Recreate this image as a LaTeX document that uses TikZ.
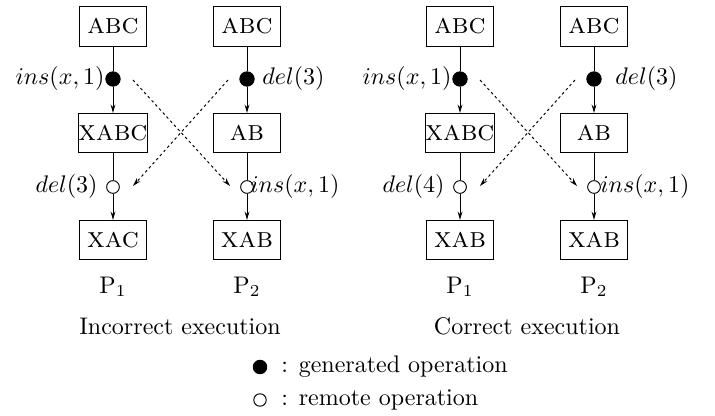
\documentclass[tikz,border=0pt]{standalone}
\usetikzlibrary{arrows.meta,calc}
\begin{document}
\begin{tikzpicture}[x=0.4167pt,y=-0.4167pt,
  state/.style={draw, line width=0.4pt, minimum width=27.9pt, minimum height=16.3pt, inner sep=0pt, font=\large\scshape},
  gen/.style={circle, fill=black, draw, line width=0.4pt, minimum size=6pt, inner sep=0pt},
  rem/.style={circle, draw, fill=white, line width=0.4pt, minimum size=5.3pt, inner sep=0pt},
  flow/.style={line width=0.4pt},
  advance/.style={line width=0.4pt, -{Stealth[length=3.5pt,width=2pt]}},
  msg/.style={dash pattern=on 1.1pt off 1.2pt, line width=0.4pt, -{Stealth[length=3.5pt,width=2pt]}},
  oplabel/.style={inner sep=0pt}]
\useasboundingbox (0,0) rectangle (715,416);

% ---- Incorrect execution ----
\node[state] (a1) at (113,26.5) {abc};
\node[gen]   (g1) at (113,79) {};
\node[state] (b1) at (113,133) {xabc};
\node[rem]   (r1) at (113,187) {};
\node[state] (c1) at (113,240) {xac};

\node[state] (a2) at (247,26.5) {abc};
\node[gen]   (g2) at (247,79) {};
\node[state] (b2) at (247,133) {ab};
\node[rem]   (r2) at (247,187) {};
\node[state] (c2) at (247,240) {xab};

\draw[flow] (a1) -- (g1);
\draw[advance] (g1) -- (b1);
\draw[flow] (b1) -- (r1);
\draw[advance] (r1) -- (c1);
\draw[flow] (a2) -- (g2);
\draw[advance] (g2) -- (b2);
\draw[flow] (b2) -- (r2);
\draw[advance] (r2) -- (c2);

\coordinate (s1) at (133,80);
\coordinate (e1) at (230,186);
\coordinate (s2) at (228,80);
\coordinate (e2) at (133,186);
\draw[msg] (s1) -- (e1);
\draw[msg] (s2) -- (e2);

\node[oplabel, anchor=east] (l1) at (105,79) {$ins(x,1)$};
\node[oplabel, anchor=west] (l2) at (262,79) {$del(3)$};
\node[oplabel, anchor=east] (l3) at (98,187) {$del(3)$};
\node[oplabel, anchor=west] (l4) at (250,187) {$ins(x,1)$};

\node (p1) at (113,287) {$\mathrm{P}_1$};
\node (p2) at (247,287) {$\mathrm{P}_2$};
\node (t1) at (180,326) {Incorrect execution};

% ---- Correct execution ----
\node[state] (a3) at (460,26.5) {abc};
\node[gen]   (g3) at (460,79) {};
\node[state] (b3) at (460,133) {xabc};
\node[rem]   (r3) at (460,187) {};
\node[state] (c3) at (460,240) {xab};

\node[state] (a4) at (594,26.5) {abc};
\node[gen]   (g4) at (594,79) {};
\node[state] (b4) at (594,133) {ab};
\node[rem]   (r4) at (594,187) {};
\node[state] (c4) at (594,240) {xab};

\draw[flow] (a3) -- (g3);
\draw[advance] (g3) -- (b3);
\draw[flow] (b3) -- (r3);
\draw[advance] (r3) -- (c3);
\draw[flow] (a4) -- (g4);
\draw[advance] (g4) -- (b4);
\draw[flow] (b4) -- (r4);
\draw[advance] (r4) -- (c4);

\coordinate (s3) at (480,80);
\coordinate (e3) at (577,186);
\coordinate (s4) at (575,80);
\coordinate (e4) at (480,186);
\draw[msg] (s3) -- (e3);
\draw[msg] (s4) -- (e4);

\node[oplabel, anchor=east] (l5) at (452,79) {$ins(x,1)$};
\node[oplabel, anchor=west] (l6) at (615,79) {$del(3)$};
\node[oplabel, anchor=east] (l7) at (445,187) {$del(4)$};
\node[oplabel, anchor=west] (l8) at (600,187) {$ins(x,1)$};

\node (p3) at (460,287) {$\mathrm{P}_1$};
\node (p4) at (594,287) {$\mathrm{P}_2$};
\node (t2) at (527,326) {Correct execution};

% ---- Legend ----
\node[gen, minimum size=5.6pt] (kg) at (260,367) {};
\node[rem, minimum size=5.2pt] (kr) at (260,400) {};
\node[anchor=west] (kt1) at (273,367) {: generated operation};
\node[anchor=west] (kt2) at (273,400) {: remote operation};
\end{tikzpicture}
\end{document}
